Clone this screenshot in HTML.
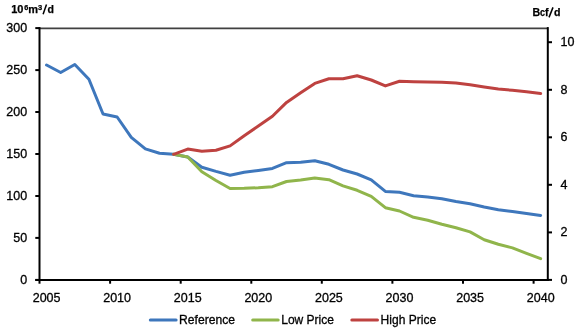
<!DOCTYPE html>
<html><head><meta charset="utf-8"><style>
html,body{margin:0;padding:0;background:#fff;}
body{width:580px;height:331px;overflow:hidden;}
svg{display:block;will-change:transform;}
.t{font-family:"Liberation Sans",sans-serif;font-size:12.5px;fill:#000;stroke:#000;stroke-width:0.3px;}
.b{font-family:"Liberation Sans",sans-serif;font-size:11px;font-weight:bold;fill:#000;stroke:#000;stroke-width:0.25px;}
</style></head><body>
<svg width="580" height="331" viewBox="0 0 580 331">
<polyline points="46.56,65.00 60.68,72.50 74.79,64.50 88.91,79.20 103.03,114.00 117.15,117.00 131.26,137.30 145.38,148.90 159.50,153.20 173.61,154.30 187.73,157.00 201.85,167.20 215.96,171.40 230.08,175.20 244.20,172.30 258.32,170.40 272.43,168.40 286.55,162.70 300.67,162.20 314.78,160.70 328.90,164.30 343.02,170.00 357.13,174.00 371.25,179.80 385.37,191.40 399.49,192.30 413.60,195.70 427.72,197.00 441.84,198.70 455.95,201.50 470.07,203.70 484.19,207.00 498.30,209.70 512.42,211.50 526.54,213.50 540.65,215.40" fill="none" stroke="#3e77bc" stroke-width="3.0" stroke-linejoin="round" stroke-linecap="round"/>
<polyline points="173.61,154.30 187.73,157.00 201.85,171.70 215.96,180.50 230.08,188.50 244.20,188.30 258.32,187.70 272.43,186.70 286.55,181.50 300.67,180.10 314.78,178.00 328.90,179.70 343.02,185.90 357.13,190.30 371.25,196.40 385.37,207.70 399.49,211.00 413.60,217.30 427.72,220.30 441.84,224.30 455.95,227.70 470.07,231.90 484.19,239.70 498.30,244.30 512.42,247.90 526.54,253.40 540.65,258.70" fill="none" stroke="#90b54b" stroke-width="3.0" stroke-linejoin="round" stroke-linecap="round"/>
<polyline points="173.61,154.30 187.73,149.10 201.85,151.30 215.96,150.30 230.08,145.90 244.20,135.70 258.32,126.10 272.43,116.20 286.55,102.40 300.67,92.70 314.78,83.40 328.90,78.80 343.02,78.70 357.13,75.80 371.25,80.00 385.37,85.90 399.49,81.30 413.60,81.80 427.72,82.00 441.84,82.30 455.95,82.90 470.07,84.70 484.19,87.00 498.30,89.00 512.42,90.30 526.54,91.70 540.65,93.50" fill="none" stroke="#be4240" stroke-width="3.0" stroke-linejoin="round" stroke-linecap="round"/>
<path d="M39.5 28.4H547.8" stroke="#404040" stroke-width="1.7" fill="none"/>
<path d="M39.5 27.1V280.9" stroke="#000" stroke-width="2.0" fill="none"/>
<path d="M547.8 27.1V280.9" stroke="#000" stroke-width="2.0" fill="none"/>
<path d="M35.3 279.9H548.8" stroke="#000" stroke-width="2.0" fill="none"/>
<path d="M35.3 279.9H39.5" stroke="#000" stroke-width="2" fill="none"/>
<text x="27.2" y="283.7" text-anchor="end" class="t">0</text>
<path d="M35.3 237.9H39.5" stroke="#000" stroke-width="2" fill="none"/>
<text x="27.2" y="241.7" text-anchor="end" class="t">50</text>
<path d="M35.3 196.0H39.5" stroke="#000" stroke-width="2" fill="none"/>
<text x="27.2" y="199.8" text-anchor="end" class="t">100</text>
<path d="M35.3 154.0H39.5" stroke="#000" stroke-width="2" fill="none"/>
<text x="27.2" y="157.8" text-anchor="end" class="t">150</text>
<path d="M35.3 112.0H39.5" stroke="#000" stroke-width="2" fill="none"/>
<text x="27.2" y="115.8" text-anchor="end" class="t">200</text>
<path d="M35.3 70.1H39.5" stroke="#000" stroke-width="2" fill="none"/>
<text x="27.2" y="73.9" text-anchor="end" class="t">250</text>
<path d="M35.3 28.1H39.5" stroke="#000" stroke-width="2" fill="none"/>
<text x="27.2" y="31.9" text-anchor="end" class="t">300</text>
<path d="M547.8 279.9H552.0" stroke="#000" stroke-width="2" fill="none"/>
<text x="560.5" y="283.7" class="t">0</text>
<path d="M547.8 232.4H552.0" stroke="#000" stroke-width="2" fill="none"/>
<text x="560.5" y="236.2" class="t">2</text>
<path d="M547.8 184.8H552.0" stroke="#000" stroke-width="2" fill="none"/>
<text x="560.5" y="188.6" class="t">4</text>
<path d="M547.8 137.3H552.0" stroke="#000" stroke-width="2" fill="none"/>
<text x="560.5" y="141.1" class="t">6</text>
<path d="M547.8 89.8H552.0" stroke="#000" stroke-width="2" fill="none"/>
<text x="560.5" y="93.6" class="t">8</text>
<path d="M547.8 42.2H552.0" stroke="#000" stroke-width="2" fill="none"/>
<text x="560.5" y="46.0" class="t">10</text>
<path d="M39.5 279.9V283.7" stroke="#000" stroke-width="2" fill="none"/>
<text x="46.6" y="301.9" text-anchor="middle" class="t">2005</text>
<path d="M110.1 279.9V283.7" stroke="#000" stroke-width="2" fill="none"/>
<text x="117.1" y="301.9" text-anchor="middle" class="t">2010</text>
<path d="M180.7 279.9V283.7" stroke="#000" stroke-width="2" fill="none"/>
<text x="187.7" y="301.9" text-anchor="middle" class="t">2015</text>
<path d="M251.3 279.9V283.7" stroke="#000" stroke-width="2" fill="none"/>
<text x="258.3" y="301.9" text-anchor="middle" class="t">2020</text>
<path d="M321.8 279.9V283.7" stroke="#000" stroke-width="2" fill="none"/>
<text x="328.9" y="301.9" text-anchor="middle" class="t">2025</text>
<path d="M392.4 279.9V283.7" stroke="#000" stroke-width="2" fill="none"/>
<text x="399.5" y="301.9" text-anchor="middle" class="t">2030</text>
<path d="M463.0 279.9V283.7" stroke="#000" stroke-width="2" fill="none"/>
<text x="470.1" y="301.9" text-anchor="middle" class="t">2035</text>
<path d="M533.6 279.9V283.7" stroke="#000" stroke-width="2" fill="none"/>
<text x="540.7" y="301.9" text-anchor="middle" class="t">2040</text>
<text x="11.2" y="13" class="b" style="font-size:11px">10</text><text x="24.2" y="9.5" class="b" style="font-size:7.3px">6</text><text x="28.2" y="13" class="b" style="font-size:11px">m</text><text x="38.0" y="9.6" class="b" style="font-size:7.5px">3</text><path d="M43.1 14.2L46.5 4.6" stroke="#000" stroke-width="1.5"/><text x="47.6" y="13" class="b" style="font-size:10.5px">d</text>
<text x="532.6" y="15.9" class="b" style="font-size:10.6px">B</text><text x="540.0" y="15.9" class="b" style="font-size:10.6px" textLength="5.0" lengthAdjust="spacingAndGlyphs">c</text><text x="544.9" y="15.9" class="b" style="font-size:10.6px">f</text><path d="M549.0 17.4L553.0 7.4" stroke="#000" stroke-width="1.5"/><text x="553.9" y="15.9" class="b" style="font-size:10.6px">d</text>
<path d="M150.3 320.1H176.1" stroke="#3e77bc" stroke-width="3.0" stroke-linecap="round"/>
<text x="179.0" y="324.2" class="t" textLength="56.0" lengthAdjust="spacingAndGlyphs">Reference</text>
<path d="M252.7 320.1H278.2" stroke="#90b54b" stroke-width="3.0" stroke-linecap="round"/>
<text x="281.2" y="324.2" class="t" textLength="52.8" lengthAdjust="spacingAndGlyphs">Low Price</text>
<path d="M351.8 320.1H377.5" stroke="#be4240" stroke-width="3.0" stroke-linecap="round"/>
<text x="380.6" y="324.2" class="t" textLength="55.5" lengthAdjust="spacingAndGlyphs">High Price</text>
</svg>
</body></html>
